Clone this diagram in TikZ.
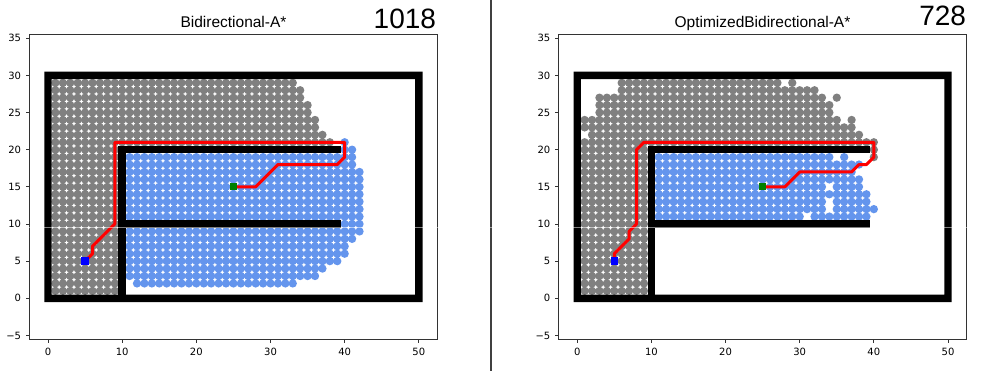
\documentclass[tikz,border=0pt]{standalone}
\usepackage{fontspec}
\setmainfont{Liberation Sans}
\newfontfamily\tickfont{DejaVu Sans}
\usetikzlibrary{calc}

\definecolor{fwdgray}{HTML}{808080}
\definecolor{bwdblue}{HTML}{6495ED}
\definecolor{startblue}{HTML}{0000FF}
\definecolor{goalgreen}{HTML}{008000}

\newcommand{\dotr}{0.56}

\tikzset{
	fwd/.style={fill=fwdgray},
	bwd/.style={fill=bwdblue},
	route/.style={red, line width=3pt, line join=round, line cap=rect},
	spine/.style={draw=black!80, line width=0.8pt},
	tickmark/.style={black!80, line width=0.8pt},
	xlab/.style={anchor=north, inner sep=0pt, yshift=-9.3pt, font=\tickfont\fontsize{10}{12}\selectfont},
	ylab/.style={anchor=east, inner sep=0pt, xshift=-8pt, font=\tickfont\fontsize{10}{12}\selectfont},
	ttl/.style={anchor=base, inner sep=0pt, font=\fontsize{15.5}{18}\selectfont},
	cnt/.style={anchor=base east, inner sep=0pt, font=\fontsize{28}{32}\selectfont},
	startmk/.style={rectangle, fill=startblue, minimum size=7.3pt, inner sep=0pt},
	goalmk/.style={rectangle, fill=goalgreen, minimum size=7.3pt, inner sep=0pt},
	maze/.pic={
		\fill[even odd rule] (-0.5,-0.5) rectangle (50.5,30.5) (0.5,0.5) rectangle (49.5,29.5);
		\fill (9.5,0.5) rectangle (10.5,20.5);
		\fill (10.5,19.5) rectangle (39.5,20.5);
		\fill (10.5,9.5) rectangle (39.5,10.5);
	},
	axes/.pic={
		\draw[spine] (-2.52,-5.48) rectangle (52.54,35.53);
		\foreach \x in {0,10,...,50}{
			\draw[tickmark] (\x,-5.48) -- ++(0,-3.5pt);
			\node[xlab] (-xt\x) at (\x,-5.48) {\x};
		}
		\foreach \v/\t in {-5/−5,0/0,5/5,10/10,15/15,20/20,25/25,30/30,35/35}{
			\draw[tickmark] (-2.52,\v) -- ++(-3.5pt,0);
			\node[ylab] (-yt\v) at (-2.52,\v) {\t};
		}
	}
}

\begin{document}
\begin{tikzpicture}[x=1pt,y=1pt]
	\useasboundingbox[fill=white] (0,0) rectangle (998,371);

	% left: Bidirectional-A*
	\begin{scope}[shift={(48pt,72.7pt)},x=7.417pt,y=7.43pt]
		\fill[fwd] \foreach \y in {1,...,20}{\foreach \x in {1,...,9}{(\x,\y) circle[radius=\dotr]}};
		\fill[fwd] \foreach \y/\b in {21/38,22/37,23/36,24/36,25/35,26/35,27/34,28/34,29/33}
			{\foreach \x in {1,...,\b}{(\x,\y) circle[radius=\dotr]}};
		\fill[bwd] \foreach \y/\a/\b in {2/12/33,3/11/36,4/11/37,5/11/39,6/11/40,7/11/40,8/11/41,
			9/11/42,10/40/42,11/11/42,12/11/42,13/11/42,14/11/42,15/11/42,16/11/42,17/11/42,
			18/11/41,19/11/41,20/40/41}
			{\foreach \x in {\a,...,\b}{(\x,\y) circle[radius=\dotr]}};
		\fill[bwd] (40,21) circle[radius=\dotr];
		\pic {maze};
		\pic (axA) {axes};
		\coordinate (startA) at (5,5);
		\coordinate (goalA) at (25,15);
		\draw[route] (startA) -- (6,6) -- (6,7) -- (9,10) -- (9,21) -- (40,21) -- (40,19)
			-- (39,18) -- (31,18) -- (28,15) -- (goalA);
		\node[startmk] (startsqA) at (startA) {};
		\node[goalmk] (goalsqA) at (goalA) {};
	\end{scope}

	% right: OptimizedBidirectional-A*
	\begin{scope}[shift={(577.2pt,72.7pt)},x=7.416pt,y=7.43pt]
		\fill[fwd] \foreach \y in {1,...,20}{\foreach \x in {1,...,9}{(\x,\y) circle[radius=\dotr]}};
		\fill[fwd] \foreach \y/\a/\b in {21/1/40,22/2/38,23/1/37,24/1/35,25/3/34,26/3/34,27/3/33,28/6/32,29/6/27}
			{\foreach \x in {\a,...,\b}{(\x,\y) circle[radius=\dotr]}};
		\fill[fwd] \foreach \x/\y in {37/24,35/27,29/29,40/20,40/19}{(\x,\y) circle[radius=\dotr]};
		\fill[bwd] \foreach \y/\a/\b in {11/11/30,11/32/39,12/11/33,12/35/40,13/11/33,13/35/39,14/11/39,
			15/11/33,15/35/38,16/11/38,17/11/37,18/11/38,19/11/34}
			{\foreach \x in {\a,...,\b}{(\x,\y) circle[radius=\dotr]}};
		\fill[bwd] (36,19) circle[radius=\dotr];
		\pic {maze};
		\pic (axB) {axes};
		\coordinate (startB) at (5,5);
		\coordinate (goalB) at (25,15);
		\draw[route] (startB) -- (5,6) -- (7,8) -- (7,9) -- (8,10) -- (8,20) -- (9,21) -- (40,21)
			-- (40,19) -- (39,18) -- (38,18) -- (37,17) -- (30,17) -- (28,15) -- (goalB);
		\node[startmk] (startsqB) at (startB) {};
		\node[goalmk] (goalsqB) at (goalB) {};
	\end{scope}

	\node[ttl] (titleA) at (233.5,343.3) {Bidirectional-A*};
	\node[ttl] (titleB) at (762.5,343.3) {OptimizedBidirectional-A*};
	\node[cnt] (countA) at (436.2,342.7) {1018};
	\node[cnt] (countB) at (966.2,345) {728};

	\draw[black!75, line width=1.2pt] (491,0) -- (491,371);
	\draw[white, opacity=0.5, line width=0.8pt] (0,143.3) -- (998,143.3);
\end{tikzpicture}
\end{document}
